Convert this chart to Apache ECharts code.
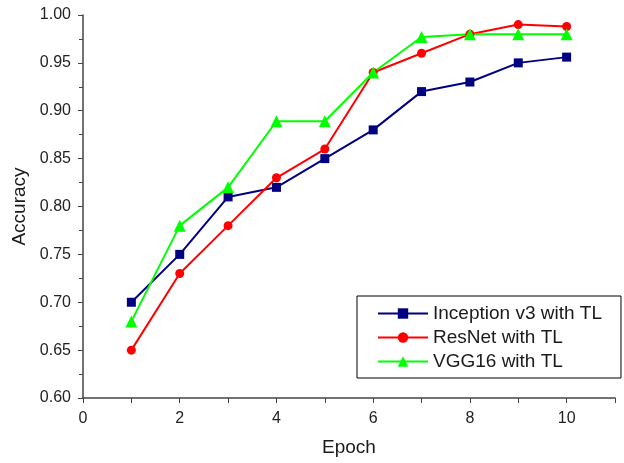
<!DOCTYPE html>
<html><head><meta charset="utf-8">
<script src="https://cdn.jsdelivr.net/npm/echarts@6/dist/echarts.min.js"></script>
<style>html,body{margin:0;padding:0;background:#fff}#c{width:624px;height:463px}</style>
</head><body><div id="c"></div>
<script>
const epochs = [1,2,3,4,5,6,7,8,9,10];
const inception = [0.70,0.75,0.81,0.82,0.85,0.88,0.92,0.93,0.95,0.956];
const resnet = [0.65,0.73,0.78,0.83,0.86,0.94,0.96,0.98,0.99,0.988];
const vgg = [0.68,0.78,0.82,0.889,0.889,0.94,0.977,0.98,0.98,0.98];
const seriesNames = ['Inception v3 with TL','ResNet with TL','VGG16 with TL'];

const font = 'Liberation Sans, Arial, sans-serif';
const chart = echarts.init(document.getElementById('c'));
function mk(name, vals, color, symbol, size){
  return {name, type:'line', data: epochs.map((e,i)=>[e, vals[i]]),
    symbol, symbolSize:size, itemStyle:{color}, lineStyle:{color, width:2},
    animation:false};
}
chart.setOption({
  animation:false,
  grid:{left:83, right:9, top:15, bottom:65},
  legend:{
    left:357, top:296, orient:'vertical',
    borderColor:'#000', borderWidth:1, padding:[8,19,7,20],
    itemWidth:50, itemHeight:13, itemGap:5,
    textStyle:{fontFamily:font, fontSize:19, color:'#1a1a1a'},
    data: seriesNames
  },
  xAxis:{type:'value', min:0, max:11, interval:1,
    name:'Epoch', nameLocation:'middle', nameGap:40,
    nameTextStyle:{fontFamily:font, fontSize:19, color:'#1a1a1a'},
    axisLine:{lineStyle:{color:'#444', width:1.5}},
    axisTick:{inside:false, length:5, lineStyle:{color:'#444'}},
    splitLine:{show:false},
    axisLabel:{fontFamily:font, fontSize:16, color:'#222', margin:13,
      formatter:v=> (v%2===0 && v<=10) ? String(v) : ''}
  },
  yAxis:{type:'value', min:0.6, max:1.0, interval:0.05,
    name:'Accuracy', nameLocation:'middle', nameGap:50,
    nameTextStyle:{fontFamily:font, fontSize:19, color:'#1a1a1a'},
    axisLine:{show:true, lineStyle:{color:'#444', width:1.5}},
    axisTick:{show:true, inside:false, length:5, lineStyle:{color:'#444'}},
    minorTick:{show:true, splitNumber:2, length:4, lineStyle:{color:'#444'}},
    splitLine:{show:false},
    axisLabel:{fontFamily:font, fontSize:16, color:'#222', margin:12,
      formatter:v=>v.toFixed(2)}
  },
  series:[
    mk(seriesNames[0], inception, '#000080', 'rect', 9),
    mk(seriesNames[1], resnet, '#ff0000', 'circle', 9),
    mk(seriesNames[2], vgg, '#00ff00', 'triangle', 12)
  ]
});
</script></body></html>
